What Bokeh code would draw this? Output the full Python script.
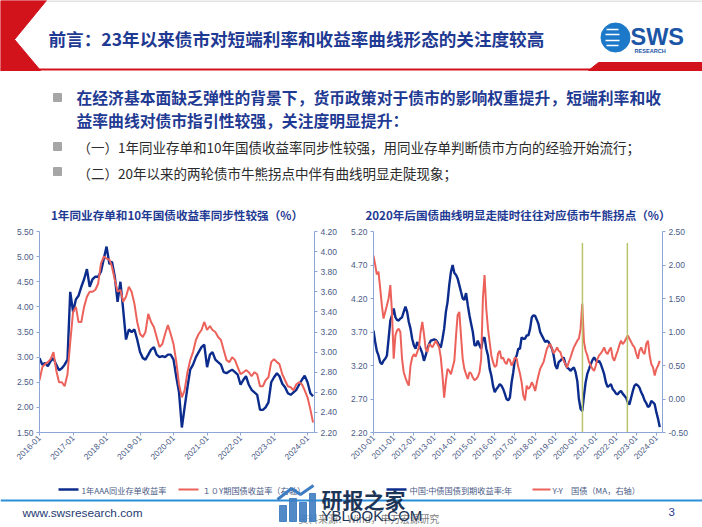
import math
import pandas as pd
from bokeh.plotting import figure
from bokeh.models import (Range1d, LinearAxis, FixedTicker, NumeralTickFormatter,
                          DatetimeTickFormatter)
from bokeh.layouts import column, row
from bokeh.core.properties import value
from bokeh.embed import file_html
from bokeh.resources import INLINE

CJK = "Noto Sans CJK SC"
LAT = "Liberation Sans"
NAVY = "#1F3A93"
BLUE_LINE = "#0B2C8C"
RED_LINE = "#EC625B"
AXIS_C = "#8EA6D6"
TICK_C = "#4A5A86"

# ---------------- texts ----------------
slide_title = "前言：23年以来债市对短端利率和收益率曲线形态的关注度较高"
bullet_bold = ["在经济基本面缺乏弹性的背景下，货币政策对于债市的影响权重提升，短端利率和收",
               "益率曲线对债市指引性较强，关注度明显提升："]
bullet_items = ["（一）1年同业存单和10年国债收益率同步性较强，用同业存单判断债市方向的经验开始流行；",
                "（二）20年以来的两轮债市牛熊拐点中伴有曲线明显走陡现象；"]
left_title = "1年同业存单和10年国债收益率同步性较强（%）"
right_title = "2020年后国债曲线明显走陡时往往对应债市牛熊拐点（%）"
left_names = ["1年AAA同业存单收益率", "１０Y期国债收益率（右轴）"]
right_names = ["中国:中债国债到期收益率:年", "Y-Y　国债（MA，右轴）"]
source_note = "资料来源：Wind，申万宏源研究"
site = "www.swsresearch.com"
page_no = "3"

# ---------------- left chart data (monthly, 2016-01 .. 2024-03) ----------------
left_start = "2016-01-01"
ncd_1y = [2.98, 2.85, 2.88, 2.82, 2.92, 2.98, 2.85, 2.74, 2.78, 2.85, 2.95, 4.30,
          3.90, 4.15, 4.22, 4.40, 4.55, 4.75, 4.40, 4.55, 4.60, 4.60, 4.70, 4.95,
          5.20, 4.85, 4.90, 4.60, 4.10, 4.50, 3.95, 3.35, 3.55, 3.50, 3.55, 3.35,
          3.10, 2.98, 2.95, 3.05, 3.15, 3.20, 3.05, 3.00, 3.02, 3.00, 3.05, 3.05,
          2.95, 2.60, 2.30, 1.60, 2.00, 2.40, 2.75, 2.85, 3.00, 3.10, 3.20, 3.25,
          2.80, 3.05, 3.10, 2.95, 2.90, 2.85, 2.70, 2.68, 2.72, 2.75, 2.70, 2.65,
          2.45, 2.55, 2.62, 2.45, 2.35, 2.30, 2.25, 1.95, 1.95, 2.00, 2.10, 2.50,
          2.60, 2.68, 2.62, 2.47, 2.40, 2.28, 2.25, 2.30, 2.35, 2.45, 2.55, 2.63,
          2.50, 2.28, 2.22]
cgb_10y_left = [2.72, 2.85, 2.88, 2.90, 2.93, 3.00, 2.82, 2.70, 2.70, 2.66, 2.78, 3.10,
                3.40, 3.45, 3.30, 3.30, 3.45, 3.55, 3.60, 3.60, 3.62, 3.68, 3.88, 3.95,
                3.93, 3.92, 3.85, 3.72, 3.60, 3.62, 3.50, 3.55, 3.65, 3.60, 3.48, 3.30,
                3.18, 3.15, 3.20, 3.38, 3.30, 3.25, 3.15, 3.05, 3.08, 3.18, 3.27, 3.18,
                3.08, 2.90, 2.68, 2.55, 2.62, 2.80, 2.92, 3.00, 3.12, 3.18, 3.22, 3.30,
                3.22, 3.26, 3.22, 3.20, 3.15, 3.12, 3.02, 2.92, 2.90, 2.95, 2.92, 2.85,
                2.78, 2.80, 2.82, 2.80, 2.76, 2.80, 2.78, 2.66, 2.66, 2.72, 2.75, 2.90,
                2.93, 2.90, 2.88, 2.78, 2.72, 2.66, 2.65, 2.62, 2.68, 2.70, 2.68, 2.62,
                2.55, 2.43, 2.30]
left_years = list(range(2016, 2025))
left_end = "2024-03-17"
left_y = (1.5, 5.5)
left_y_ticks = [1.5, 2.0, 2.5, 3.0, 3.5, 4.0, 4.5, 5.0, 5.5]
left_y2 = (2.2, 4.2)
left_y2_ticks = [2.2, 2.4, 2.6, 2.8, 3.0, 3.2, 3.4, 3.6, 3.8, 4.0, 4.2]

# ---------------- right chart data (monthly, 2010-01 .. 2024-03) ----------------
right_start = "2010-01-01"
cgb_10y = [3.72, 3.55, 3.42, 3.35, 3.25, 3.22, 3.27, 3.30, 3.35, 3.60, 3.87, 3.95,
           4.05, 3.92, 3.88, 3.87, 3.90, 3.92, 4.00, 4.08, 4.00, 3.85, 3.75, 3.60,
           3.50, 3.45, 3.55, 3.50, 3.45, 3.38, 3.27, 3.35, 3.45, 3.52, 3.57, 3.58,
           3.59, 3.58, 3.55, 3.50, 3.47, 3.60, 3.75, 4.00, 4.15, 4.40, 4.60, 4.70,
           4.58, 4.55, 4.50, 4.40, 4.30, 4.20, 4.18, 4.28, 4.10, 3.95, 3.82, 3.70,
           3.50, 3.50, 3.57, 3.50, 3.45, 3.60, 3.62, 3.45, 3.35, 3.15, 3.05, 2.90,
           2.80, 2.85, 2.88, 2.92, 2.90, 2.85, 2.78, 2.70, 2.68, 2.72, 2.95, 3.10,
           3.30, 3.35, 3.45, 3.45, 3.62, 3.60, 3.60, 3.65, 3.65, 3.75, 3.92, 3.95,
           3.94, 3.88, 3.82, 3.70, 3.65, 3.60, 3.55, 3.57, 3.55, 3.50, 3.45, 3.35,
           3.20, 3.15, 3.25, 3.27, 3.30, 3.32, 3.22, 3.17, 3.15, 3.12, 3.15, 3.17,
           3.10, 2.97, 2.70, 2.55, 2.52, 2.75, 2.95, 3.08, 3.15, 3.22, 3.28, 3.32,
           3.28, 3.25, 3.27, 3.22, 3.15, 3.07, 2.95, 2.88, 2.90, 2.92, 2.85, 2.82,
           2.78, 2.77, 2.80, 2.82, 2.78, 2.75, 2.72, 2.65, 2.62, 2.72, 2.82, 2.90,
           2.92, 2.90, 2.87, 2.80, 2.75, 2.68, 2.64, 2.58, 2.60, 2.67, 2.65, 2.62,
           2.50, 2.40, 2.28]
term_spread_ma = [2.14, 2.00, 1.86, 1.90, 1.66, 1.40, 1.20, 1.30, 1.40, 1.50, 1.70, 1.30,
                  0.60, 0.95, 1.02, 1.05, 1.00, 0.60, 0.40, 0.32, 0.25, 0.20, 0.50, 0.62,
                  0.67, 0.63, 0.70, 0.77, 1.00, 1.15, 0.97, 0.75, 0.70, 0.82, 0.80, 0.77,
                  0.82, 0.87, 0.82, 0.77, 0.62, 0.35, 0.02, 0.27, 0.45, 0.42, 0.37, 0.47,
                  0.57, 0.95, 1.25, 1.30, 0.95, 0.60, 0.45, 0.37, 0.30, 0.40, 0.38, 0.32,
                  0.28, 0.30, 0.33, 0.40, 0.60, 1.50, 1.85, 1.35, 1.05, 0.85, 0.65, 0.55,
                  0.48, 0.50, 0.68, 0.72, 0.60, 0.62, 0.55, 0.52, 0.60, 0.58, 0.50, 0.55,
                  0.62, 0.60, 0.48, 0.38, 0.25, 0.05, -0.02, 0.20, 0.15, 0.18, 0.25, 0.20,
                  0.12, 0.25, 0.35, 0.45, 0.50, 0.55, 0.65, 0.75, 0.80, 0.82, 0.75, 0.68,
                  0.72, 0.77, 0.72, 0.70, 0.62, 0.57, 0.52, 0.47, 0.55, 0.62, 0.70, 0.77,
                  0.82, 0.87, 0.90, 1.05, 1.42, 0.85, 0.72, 0.65, 0.55, 0.50, 0.45, 0.42,
                  0.50, 0.60, 0.65, 0.68, 0.72, 0.77, 0.70, 0.67, 0.73, 0.77, 0.62, 0.57,
                  0.65, 0.72, 0.80, 0.87, 0.82, 0.85, 0.90, 0.95, 0.90, 0.85, 0.80, 0.77,
                  0.68, 0.60, 0.72, 0.77, 0.70, 0.67, 0.82, 0.87, 0.65, 0.52, 0.47, 0.35,
                  0.45, 0.50, 0.57]
right_years = list(range(2010, 2025))
right_end = "2024-04-20"
right_y = (2.2, 5.2)
right_y_ticks = [2.2, 2.7, 3.2, 3.7, 4.2, 4.7, 5.2]
right_y2 = (-0.5, 2.5)
right_y2_ticks = [-0.5, 0.0, 0.5, 1.0, 1.5, 2.0, 2.5]
turning_points = ["2020-05-04", "2022-07-25"]
turning_top = 5.03


def ts(d):
    return pd.Timestamp(d)


def year_ticks(years):
    return [pd.Timestamp(f"{y}-01-01").value / 1e6 for y in years]


def style_axis(ax, size="8.5px"):
    ax.axis_line_color = AXIS_C
    ax.axis_line_width = 1
    ax.major_tick_line_color = AXIS_C
    ax.minor_tick_line_color = None
    ax.major_tick_in = 0
    ax.major_tick_out = 3
    ax.major_label_text_color = TICK_C
    ax.major_label_text_font = LAT
    ax.major_label_text_font_size = size
    ax.major_label_standoff = 3


def make_chart(title, start, yvals, y2vals, years, end, yr, yticks, y2r, y2ticks,
               width, height, borders, xlabel_size):
    dates = pd.date_range(start, periods=len(yvals), freq="MS")
    p = figure(width=width, height=height, x_axis_type="datetime",
               x_range=Range1d(ts(start), ts(end)), y_range=Range1d(*yr),
               output_backend="svg", toolbar_location=None,
               min_border_left=borders[0], min_border_right=borders[1],
               min_border_top=borders[2], min_border_bottom=borders[3],
               outline_line_color=None, title=title)
    p.title.align = "center"
    p.title.text_font = CJK
    p.title.text_font_size = "11.6px"
    p.title.text_font_style = "bold"
    p.title.text_color = NAVY
    p.title.standoff = 18
    p.grid.visible = False
    p.extra_y_ranges = {"r": Range1d(*y2r)}

    p.xaxis.ticker = FixedTicker(ticks=year_ticks(years))
    p.xaxis.formatter = DatetimeTickFormatter(years="%Y-%m", months="%Y-%m", days="%Y-%m",
                                              hours="%Y-%m", minutes="%Y-%m")
    p.xaxis.major_label_orientation = math.pi / 4
    style_axis(p.xaxis[0], xlabel_size)
    p.xaxis.major_label_standoff = 1
    p.xaxis.major_label_text_line_height = 1.0

    p.yaxis.ticker = FixedTicker(ticks=yticks)
    p.yaxis.formatter = NumeralTickFormatter(format="0.00")
    style_axis(p.yaxis[0])

    ax2 = LinearAxis(y_range_name="r", ticker=FixedTicker(ticks=y2ticks),
                     formatter=NumeralTickFormatter(format="0.00"))
    style_axis(ax2)
    p.add_layout(ax2, "right")

    p.line(dates, yvals, line_color=BLUE_LINE, line_width=2.4)
    p.line(dates, y2vals, line_color=RED_LINE, line_width=2, y_range_name="r")
    return p


p1 = make_chart(left_title, left_start, ncd_1y, cgb_10y_left, left_years, left_end,
                left_y, left_y_ticks, left_y2, left_y2_ticks, 344, 289, (39, 30, 37, 43), "8.3px")
p2 = make_chart(right_title, right_start, cgb_10y, term_spread_ma, right_years, right_end,
                right_y, right_y_ticks, right_y2, right_y2_ticks, 358, 289, (29, 40, 37, 51), "8.2px")
tp = [ts(d) for d in turning_points]
p2.segment(x0=tp, y0=[right_y[0]] * len(tp), x1=tp, y1=[turning_top] * len(tp),
           line_color="#B9C46C", line_width=1.5)

# ---------------- header (slide title + bullets) ----------------
RED = "#D3131C"
hdr = figure(width=702, height=194, x_range=Range1d(0, 702), y_range=Range1d(194, 0),
             output_backend="svg", toolbar_location=None, min_border=0,
             x_axis_location=None, y_axis_location=None, outline_line_color=None)
hdr.grid.visible = False
hdr.line([0, 702], [0.5, 0.5], line_color="#C8C8C8", line_width=1)
hdr.patch([0, 46, 14, 40, 0], [0, 0, 39, 70, 70], color=RED)
hdr.line([0, 702], [69, 69], line_color=RED, line_width=2)
hdr.patch([588, 598, 702, 702], [70, 62, 62, 70], color=RED)
hdr.text(x=[48], y=[38], text=[slide_title], text_font=value(CJK), text_font_style="bold",
         text_font_size="17.6px", text_color=NAVY, text_baseline="middle")
# logo
hdr.scatter(x=[615], y=[37], size=29, marker="circle", color="#1C78C8")
hdr.segment(x0=[606, 605, 605, 606], y0=[29, 34, 40, 45], x1=[618, 619, 619, 618],
            y1=[29, 34, 40, 45], line_color="white", line_width=1.5)
hdr.text(x=[630], y=[36], text=["SWS"], text_font=value(LAT), text_font_style="bold",
         text_font_size="23.5px", text_color="#1B55A5", text_baseline="middle")
hdr.text(x=[634], y=[50], text=["RESEARCH"], text_font=value(LAT), text_font_style="bold",
         text_font_size="5.6px", text_color="#1B55A5", text_baseline="middle")
# bullets
hdr.scatter(x=[57, 57, 57], y=[97, 146, 171], marker="square", size=8, color="#A6A6A6")
hdr.text(x=[76, 76], y=[97, 120], text=bullet_bold, text_font=value(CJK), text_font_style="bold",
         text_font_size="15.8px", text_color=NAVY, text_baseline="middle")
hdr.text(x=[77, 77], y=[146, 172], text=bullet_items, text_font=value(CJK),
         text_font_size="13.5px", text_color="#2B2B2B", text_baseline="middle")

# ---------------- footer (legends, source, site) ----------------
foot = figure(width=702, height=44, x_range=Range1d(0, 702), y_range=Range1d(527, 483),
              output_backend="svg", toolbar_location=None, min_border=0,
              x_axis_location=None, y_axis_location=None, outline_line_color=None)
foot.grid.visible = False
# legend keys and labels of the two charts
foot.segment(x0=[58, 386], y0=[489, 489], x1=[78, 406], y1=[489, 489],
             line_color=BLUE_LINE, line_width=2.4)
foot.segment(x0=[178, 532], y0=[489, 489], x1=[198, 550], y1=[489, 489],
             line_color=RED_LINE, line_width=2)
foot.text(x=[81, 202], y=[489, 489], text=left_names, text_font=value(CJK),
          text_font_size="8.2px", text_color=TICK_C, text_baseline="middle")
foot.text(x=[409, 552], y=[489, 489], text=right_names, text_font=value(CJK),
          text_font_size="8.2px", text_color=TICK_C, text_baseline="middle")

foot.line([0, 702], [500, 500], line_color="#2C8ED8", line_width=2)
foot.text(x=[22], y=[512], text=[site], text_font=value(LAT), text_font_size="11.8px",
          text_color="#1F3A73", text_baseline="middle")
foot.text(x=[668], y=[511], text=[page_no], text_font=value(LAT), text_font_size="11.5px",
          text_color=NAVY, text_baseline="middle")
foot.text(x=[298], y=[518], text=[source_note], text_font=value(CJK), text_font_size="9.8px",
          text_color="#808080", text_baseline="middle")
# watermark
foot.quad(left=[279, 289, 299, 309], right=[286, 296, 306, 315],
          top=[505, 498, 502, 493], bottom=[521, 521, 521, 521], color="#3F7DC2", alpha=0.9)
foot.line([277, 291, 300, 313], [499, 488, 494, 485], line_color="#3F7DC2", line_width=3)
foot.text(x=[321], y=[498], text=["研报之家"], text_font=value(CJK), text_font_style="bold",
          text_font_size="21px", text_color="#1C3557", text_baseline="middle")
foot.text(x=[321], y=[515], text=["YBLOOK.COM"], text_font=value(LAT),
          text_font_size="15px", text_color="#1C3557", text_baseline="middle")

layout = column(hdr, row(p1, p2), foot)
open("out.html", "w").write(file_html(layout, INLINE))
